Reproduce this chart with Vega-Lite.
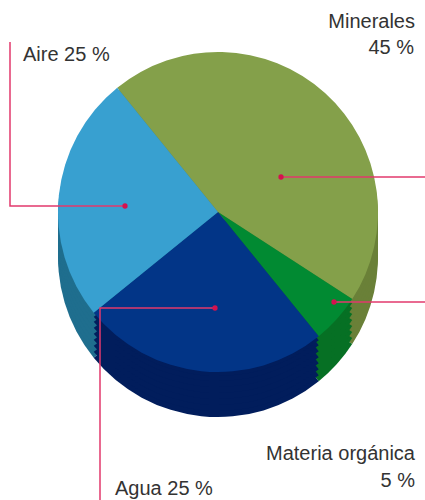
{
  "$schema": "https://vega.github.io/schema/vega-lite/v6.json",
  "width": 425,
  "height": 500,
  "padding": 0,
  "autosize": {"type": "none"},
  "background": "white",
  "config": {"view": {"stroke": null}},
  "datasets": {
    "parts": [
      {"part": "Minerales", "share": 45, "idx": 1},
      {"part": "Materia orgánica", "share": 5, "idx": 2},
      {"part": "Agua", "share": 25, "idx": 3},
      {"part": "Aire", "share": 25, "idx": 4}
    ],
    "callouts": [
      {"g": "Aire", "o": 0, "x": 10, "y": 42},
      {"g": "Aire", "o": 1, "x": 10, "y": 206},
      {"g": "Aire", "o": 2, "x": 125, "y": 206},
      {"g": "Minerales", "o": 0, "x": 281, "y": 177},
      {"g": "Minerales", "o": 1, "x": 425, "y": 177},
      {"g": "Materia", "o": 0, "x": 334, "y": 302},
      {"g": "Materia", "o": 1, "x": 425, "y": 302},
      {"g": "Agua", "o": 0, "x": 215, "y": 308},
      {"g": "Agua", "o": 1, "x": 100, "y": 308},
      {"g": "Agua", "o": 2, "x": 100, "y": 500}
    ],
    "dots": [
      {"g": "Aire", "x": 125, "y": 206},
      {"g": "Minerales", "x": 281, "y": 177},
      {"g": "Materia", "x": 334, "y": 302},
      {"g": "Agua", "x": 215, "y": 308}
    ],
    "labelsRight": [
      {"t": "Minerales", "x": 415, "y": 28},
      {"t": "45 %", "x": 414, "y": 54},
      {"t": "Materia orgánica", "x": 415, "y": 460},
      {"t": "5 %", "x": 415, "y": 487}
    ],
    "labelsLeft": [
      {"t": "Aire 25 %", "x": 23, "y": 61},
      {"t": "Agua 25 %", "x": 115, "y": 495}
    ]
  },
  "layer": [
    {
      "data": {"name": "parts"},
      "mark": {"type": "arc", "outerRadius": 160, "stroke": null},
      "encoding": {
        "x": {"datum": 218, "type": "quantitative", "scale": {"domain": [0, 425], "nice": false, "zero": false}, "axis": null},
        "y": {"datum": 257, "type": "quantitative", "scale": {"domain": [0, 500], "nice": false, "zero": false, "reverse": true}, "axis": null},
        "theta": {"field": "share", "type": "quantitative", "stack": true, "scale": {"range": [-0.681, 5.602]}},
        "order": {"field": "idx"},
        "color": {"field": "part", "type": "nominal", "legend": null,
          "scale": {"domain": ["Minerales", "Materia orgánica", "Agua", "Aire"], "range": ["#6a8038", "#067024", "#011d5c", "#1f6e8e"]}}
      }
    },
    {
      "data": {"name": "parts"},
      "mark": {"type": "arc", "outerRadius": 160, "stroke": null},
      "encoding": {
        "x": {"datum": 218, "type": "quantitative"},
        "y": {"datum": 251, "type": "quantitative"},
        "theta": {"field": "share", "type": "quantitative", "stack": true},
        "order": {"field": "idx"},
        "color": {"field": "part", "type": "nominal", "legend": null}
      }
    },
    {
      "data": {"name": "parts"},
      "mark": {"type": "arc", "outerRadius": 160, "stroke": null},
      "encoding": {
        "x": {"datum": 218, "type": "quantitative"},
        "y": {"datum": 245, "type": "quantitative"},
        "theta": {"field": "share", "type": "quantitative", "stack": true},
        "order": {"field": "idx"},
        "color": {"field": "part", "type": "nominal", "legend": null}
      }
    },
    {
      "data": {"name": "parts"},
      "mark": {"type": "arc", "outerRadius": 160, "stroke": null},
      "encoding": {
        "x": {"datum": 218, "type": "quantitative"},
        "y": {"datum": 239, "type": "quantitative"},
        "theta": {"field": "share", "type": "quantitative", "stack": true},
        "order": {"field": "idx"},
        "color": {"field": "part", "type": "nominal", "legend": null}
      }
    },
    {
      "data": {"name": "parts"},
      "mark": {"type": "arc", "outerRadius": 160, "stroke": null},
      "encoding": {
        "x": {"datum": 218, "type": "quantitative"},
        "y": {"datum": 233, "type": "quantitative"},
        "theta": {"field": "share", "type": "quantitative", "stack": true},
        "order": {"field": "idx"},
        "color": {"field": "part", "type": "nominal", "legend": null}
      }
    },
    {
      "data": {"name": "parts"},
      "mark": {"type": "arc", "outerRadius": 160, "stroke": null},
      "encoding": {
        "x": {"datum": 218, "type": "quantitative"},
        "y": {"datum": 227, "type": "quantitative"},
        "theta": {"field": "share", "type": "quantitative", "stack": true},
        "order": {"field": "idx"},
        "color": {"field": "part", "type": "nominal", "legend": null}
      }
    },
    {
      "data": {"name": "parts"},
      "mark": {"type": "arc", "outerRadius": 160, "stroke": null},
      "encoding": {
        "x": {"datum": 218, "type": "quantitative"},
        "y": {"datum": 221, "type": "quantitative"},
        "theta": {"field": "share", "type": "quantitative", "stack": true},
        "order": {"field": "idx"},
        "color": {"field": "part", "type": "nominal", "legend": null}
      }
    },
    {
      "data": {"name": "parts"},
      "mark": {"type": "arc", "outerRadius": 160, "stroke": null},
      "encoding": {
        "x": {"datum": 218, "type": "quantitative"},
        "y": {"datum": 216, "type": "quantitative"},
        "theta": {"field": "share", "type": "quantitative", "stack": true},
        "order": {"field": "idx"},
        "color": {"field": "part", "type": "nominal", "legend": null}
      }
    },
    {
      "data": {"name": "parts"},
      "mark": {"type": "arc", "outerRadius": 160, "stroke": null},
      "encoding": {
        "x": {"datum": 218, "type": "quantitative"},
        "y": {"datum": 212, "type": "quantitative"},
        "theta": {"field": "share", "type": "quantitative", "stack": true},
        "order": {"field": "idx"},
        "fill": {"field": "part", "type": "nominal", "legend": null,
          "scale": {"domain": ["Minerales", "Materia orgánica", "Agua", "Aire"], "range": ["#84a04a", "#018a32", "#023587", "#38a0d0"]}}
      }
    },
    {
      "data": {"name": "callouts"},
      "mark": {"type": "line", "color": "#e2386c", "strokeWidth": 1.5},
      "encoding": {
        "x": {"field": "x", "type": "quantitative"},
        "y": {"field": "y", "type": "quantitative"},
        "detail": {"field": "g"},
        "order": {"field": "o"}
      }
    },
    {
      "data": {"name": "dots"},
      "mark": {"type": "point", "filled": true, "size": 28, "color": "#d4124e", "opacity": 1},
      "encoding": {
        "x": {"field": "x", "type": "quantitative"},
        "y": {"field": "y", "type": "quantitative"}
      }
    },
    {
      "data": {"name": "labelsRight"},
      "mark": {"type": "text", "align": "right", "baseline": "alphabetic", "font": "Liberation Sans", "fontSize": 20, "color": "#333333"},
      "encoding": {
        "x": {"field": "x", "type": "quantitative"},
        "y": {"field": "y", "type": "quantitative"},
        "text": {"field": "t"}
      }
    },
    {
      "data": {"name": "labelsLeft"},
      "mark": {"type": "text", "align": "left", "baseline": "alphabetic", "font": "Liberation Sans", "fontSize": 20, "color": "#333333"},
      "encoding": {
        "x": {"field": "x", "type": "quantitative"},
        "y": {"field": "y", "type": "quantitative"},
        "text": {"field": "t"}
      }
    }
  ]
}
